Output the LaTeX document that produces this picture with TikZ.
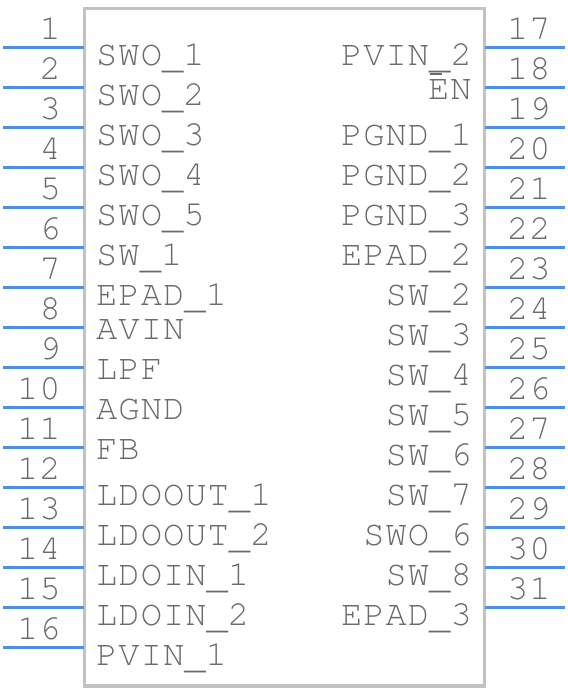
\documentclass[tikz,border=0pt]{standalone}
\usepackage{fontspec}
\newfontfamily\pinfont[LetterSpace=2.8]{texgyrecursor-regular.otf}
\definecolor{pinblue}{HTML}{4A8FE8}
\definecolor{txtgray}{HTML}{6A6A6A}
\definecolor{boxgray}{HTML}{C2C2C2}
\newcommand\us{\raisebox{-3.5bp}{\_}}
\tikzset{
  pinline/.style={draw=pinblue, line width=3.3bp},
  body/.style={draw=boxgray, line width=3.3bp, inner sep=0pt, fill=none},
  lbl/.style={font=\pinfont\fontsize{35.5bp}{40bp}\selectfont, text=txtgray, inner sep=0pt},
  num/.style={font=\pinfont\fontsize{35.5bp}{40bp}\selectfont, text=txtgray, inner sep=0pt}
}
\begin{document}
\begin{tikzpicture}[x=1bp,y=-1bp]
\useasboundingbox (0,0) rectangle (568,692);
\node[body, minimum width=400.4bp, minimum height=677.7bp] (chip) at (284.5,347.15) {};
% left pins
\foreach \n/\t/\d [count=\i from 0] in {1/SWO\us1/17.5, 2/SWO\us2/17.5, 3/SWO\us3/17.5, 4/SWO\us4/17.5, 5/SWO\us5/17.5, 6/SW\us1/17.5, 7/EPAD\us1/17.5, 8/AVIN/11.5, 9/LPF/11.5, 10/AGND/11.5, 11/FB/11.5, 12/LDOOUT\us1/17.5, 13/LDOOUT\us2/17.5, 14/LDOIN\us1/17.5, 15/LDOIN\us2/17.5, 16/PVIN\us1/17.5} {
  \coordinate (pa\n) at (3.3, {47.7+40*\i});
  \coordinate (pb\n) at (84.3, {47.7+40*\i});
  \draw[pinline] (pa\n) -- (pb\n);
  \node[num, anchor=base east] (num\n) at (61, {47.7+40*\i-8.5}) {\n};
  \node[lbl, anchor=base west] (lbl\n) at (96, {47.7+40*\i+\d}) {\t};
}
% right pins
\foreach \n/\t/\d in {17/PVIN\us2/17.5, 19/PGND\us1/17.5, 20/PGND\us2/17.5, 21/PGND\us3/17.5, 22/EPAD\us2/17.5, 23/SW\us2/17.5, 24/SW\us3/17.5, 25/SW\us4/17.5, 26/SW\us5/17.5, 27/SW\us6/17.5, 28/SW\us7/17.5, 29/SWO\us6/17.5, 30/SW\us8/17.5, 31/EPAD\us3/17.5} {
  \pgfmathtruncatemacro{\k}{\n-17}
  \coordinate (pa\n) at (484.7, {47.7+40*\k});
  \coordinate (pb\n) at (565, {47.7+40*\k});
  \draw[pinline] (pa\n) -- (pb\n);
  \node[num, anchor=base west] (num\n) at (507, {47.7+40*\k-8.5}) {\n};
  \node[lbl, anchor=base east] (lbl\n) at (472, {47.7+40*\k+\d}) {\t};
}
% pin 18
\coordinate (pa18) at (484.7, 87.7);
\coordinate (pb18) at (565, 87.7);
\draw[pinline] (pa18) -- (pb18);
\node[num, anchor=base west] (num18) at (507, 79.2) {18};
\node[lbl, anchor=base east] (lbl18) at (472, 99.2) {\makebox[0pt][l]{\hspace{2bp}\raisebox{24.6bp}{\rule{12bp}{1.8bp}}}EN};
\end{tikzpicture}
\end{document}
